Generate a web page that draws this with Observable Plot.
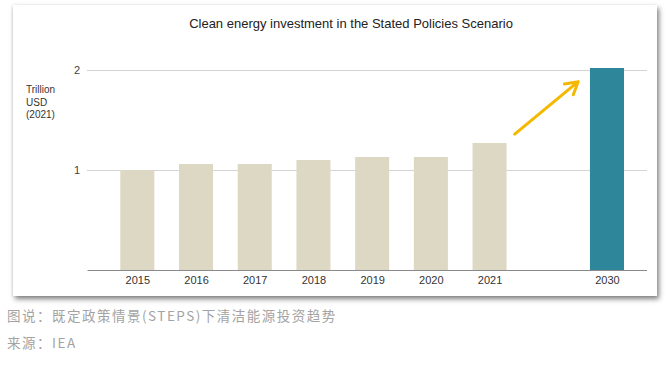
<!DOCTYPE html>
<html>
<head>
<meta charset="utf-8">
<script src="https://cdn.jsdelivr.net/npm/d3@7"></script>
<script src="https://cdn.jsdelivr.net/npm/@observablehq/plot@0.6"></script>
<style>
  html, body { margin: 0; padding: 0; background: #fff; }
  body { width: 667px; height: 373px; position: relative; overflow: hidden; font-family: "Liberation Sans", Arial, sans-serif; }
  #card { position: absolute; left: 13px; top: 5px; width: 644px; height: 291px; background: #fff;
          box-shadow: 2px 3px 5px rgba(0,0,0,0.5), -1px 0 2px rgba(0,0,0,0.08); }
  #title { height: 34px; padding-top: 3px; line-height: 31px; text-align: center; font-size: 13px; color: #222; padding-left: 32px; box-sizing: border-box; }
  #chart svg { display: block; }
  .cap { position: absolute; left: 7px; font-family: "Noto Sans CJK SC", sans-serif; font-size: 13.5px; color: #a3a3a3; letter-spacing: 1.5px; }
</style>
</head>
<body>
<div id="card">
  <div id="title">Clean energy investment in the Stated Policies Scenario</div>
  <div id="chart"></div>
</div>
<div class="cap" style="top:305px">图说：既定政策情景(STEPS)下清洁能源投资趋势</div>
<div class="cap" style="top:332px">来源：IEA</div>
<script>
// Data
const years = ["2015", "2016", "2017", "2018", "2019", "2020", "2021", "2030"];
const investment = [1.00, 1.06, 1.06, 1.10, 1.13, 1.13, 1.27, 2.02];
const seriesType = ["hist", "hist", "hist", "hist", "hist", "hist", "hist", "steps"];
const gapSlot = " ";
const xDomain = ["2015", "2016", "2017", "2018", "2019", "2020", "2021", gapSlot, "2030"];
const yTicks = [1, 2];
const yLabel = "Trillion\nUSD\n(2021)";
const arrowFrom = {year: "2021", value: 1.16};
const arrowTo = {year: "2030", value: 2.13};

const rows = years.map((y, i) => ({year: y, value: investment[i], type: seriesType[i]}));

const plot = Plot.plot({
  width: 644,
  height: 257,
  marginLeft: 74.5,
  marginRight: 10,
  marginTop: 20,
  marginBottom: 26,
  style: {fontFamily: "Liberation Sans, Arial, sans-serif", fontSize: "11px", color: "#333", background: "transparent"},
  x: {type: "band", domain: xDomain, range: [107.3, 611], paddingInner: 0.42, paddingOuter: 0, round: false, label: null},
  y: {domain: [0, 2], range: [231, 31], label: null},
  color: {domain: ["hist", "steps"], range: ["#ddd8c4", "#2e869b"]},
  marks: [
    Plot.ruleY(yTicks, {stroke: "#a8a8a8", strokeDasharray: "1,1", strokeWidth: 1}),
    Plot.barY(rows, {x: "year", y: "value", fill: "type"}),
    Plot.ruleY([0], {stroke: "#8a8a8a", strokeWidth: 1}),
    Plot.axisX({ticks: years, tickSize: 0, tickPadding: 6, fontSize: 11, fill: "#333"}),
    Plot.axisY({ticks: yTicks, tickSize: 0, tickPadding: 8, fontSize: 11, fill: "#444", tickFormat: d => String(d)}),
    Plot.text([yLabel], {text: d => d, frameAnchor: "left", y: 1.69, dx: -62, textAnchor: "start", fontSize: 10, fill: "#333", lineHeight: 1.25}),
    Plot.arrow([{}], {x1: () => arrowFrom.year, y1: () => arrowFrom.value, x2: () => arrowTo.year, y2: () => arrowTo.value,
      stroke: "#f5b800", strokeWidth: 3, headLength: 7, insetStart: 32, insetEnd: 38})
  ]
});
document.getElementById("chart").appendChild(plot);
</script>
</body>
</html>
